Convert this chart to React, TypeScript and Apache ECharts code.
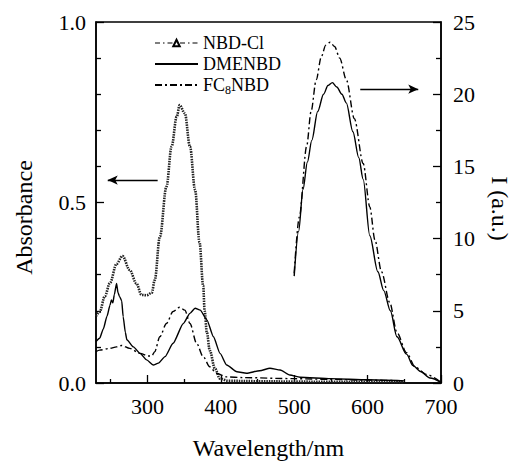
import React, { useEffect, useRef } from 'react';
import * as echarts from 'echarts';

// Absorption spectra (left axis, Absorbance)
const absWlNbdCl = [230, 235, 242, 249, 258, 266, 276, 285, 292, 299, 306, 310, 317, 326, 333, 340, 344, 351, 358, 365, 371, 376, 378, 381, 385, 392, 399, 410, 450, 500, 550, 600, 650];
const absNbdCl = [0.185, 0.197, 0.24, 0.277, 0.33, 0.352, 0.313, 0.276, 0.244, 0.243, 0.25, 0.285, 0.405, 0.544, 0.655, 0.738, 0.77, 0.747, 0.655, 0.535, 0.39, 0.27, 0.2, 0.14, 0.09, 0.04, 0.012, 0.006, 0.005, 0.004, 0.003, 0.003, 0.002];

const absWlDmenbd = [230, 235, 240, 245, 249, 251, 253, 255, 258, 260, 262, 265, 267, 270, 272, 281, 290, 299, 308, 315, 324, 335, 349, 358, 365, 372, 381, 390, 399, 408, 422, 435, 453, 467, 481, 494, 508, 550, 600, 650];
const absDmenbd = [0.115, 0.124, 0.15, 0.185, 0.215, 0.23, 0.222, 0.245, 0.276, 0.25, 0.24, 0.228, 0.184, 0.14, 0.12, 0.1, 0.082, 0.064, 0.05, 0.055, 0.073, 0.11, 0.165, 0.193, 0.207, 0.202, 0.175, 0.128, 0.082, 0.05, 0.031, 0.027, 0.034, 0.041, 0.036, 0.022, 0.016, 0.012, 0.009, 0.006];

const absWlFc8 = [230, 235, 249, 258, 265, 276, 290, 301, 306, 310, 317, 326, 335, 344, 351, 358, 367, 376, 385, 394, 408, 430, 500, 550, 600, 650];
const absFc8 = [0.087, 0.091, 0.096, 0.1, 0.104, 0.096, 0.082, 0.075, 0.075, 0.087, 0.128, 0.165, 0.198, 0.21, 0.202, 0.165, 0.11, 0.073, 0.045, 0.027, 0.017, 0.015, 0.012, 0.01, 0.008, 0.006];

// Emission spectra (right axis, I (a.u.))
const emWlDmenbd = [500, 506, 512, 518, 524, 532, 540, 546, 552, 558, 565, 571, 580, 588, 594, 603, 614, 622, 631, 640, 653, 662, 672, 685, 700];
const emDmenbd = [7.4, 10.5, 13.4, 15.3, 16.8, 18.8, 20.0, 20.6, 20.8, 20.5, 20.0, 19.4, 17.4, 15.6, 14.1, 10.2, 7.7, 6.4, 5.0, 3.2, 2.0, 1.2, 0.8, 0.35, 0.05];

const emWlFc8 = [500, 507, 517, 523, 530, 537, 543, 549, 555, 562, 571, 582, 594, 603, 610, 619, 630, 640, 653, 665, 680, 700];
const emFc8 = [7.6, 11.5, 16.4, 18.8, 21.0, 22.6, 23.4, 23.6, 23.3, 22.5, 21.0, 18.3, 15.2, 12.2, 9.9, 7.7, 5.6, 3.5, 2.1, 1.1, 0.6, 0.05];

const xMajorTicks = [300, 400, 500, 600, 700];
const xMinorTicks = [250, 350, 450, 550, 650];
const seriesNames = ['NBD-Cl', 'DMENBD', 'FC8NBD'];

// Arrow annotations [start, end] in data coordinates
const leftArrow = [[314, 0.562], [246, 0.562]];
const rightArrow = [[590, 20.35], [669, 20.35]];

const zip = (xs: number[], ys: number[]) => xs.map((x, i) => [x, ys[i]]);

const FONT = 'Liberation Serif';
const DASHDOT = [7, 3, 2, 3];

export default function App() {
  const ref = useRef<HTMLDivElement>(null);
  useEffect(() => {
    if (!ref.current) return;
    const chart = echarts.init(ref.current, undefined, { renderer: 'svg' });
    const black = '#000';
    const arrowLine = (pts: number[][]) => ({
      silent: true,
      symbol: ['none', 'arrow'],
      symbolSize: [7, 10],
      label: { show: false },
      lineStyle: { color: black, width: 1.3, type: 'solid' },
      itemStyle: { color: black, opacity: 1 },
      data: [[{ coord: pts[0] }, { coord: pts[1] }]],
    });
    chart.setOption({
      animation: false,
      backgroundColor: '#fff',
      grid: {
        left: 96, right: 74, top: 22, bottom: 79,
        outerBoundsMode: 'none',
        containLabel: false,
        show: true, borderColor: black, borderWidth: 1.5, backgroundColor: 'transparent',
      },
      legend: {
        orient: 'vertical',
        left: 149,
        top: 29,
        itemWidth: 43,
        itemHeight: 8,
        itemGap: 3,
        selectedMode: false,
        data: [
          { name: seriesNames[0], lineStyle: { type: [5, 3, 1.5, 3], width: 1.2, color: black }, itemStyle: { color: black, borderWidth: 1 } },
          { name: seriesNames[1], itemStyle: { opacity: 0 } },
          { name: seriesNames[2], itemStyle: { opacity: 0 } },
        ],
        textStyle: {
          fontFamily: FONT,
          fontSize: 18,
          color: black,
          rich: {
            t: { fontFamily: FONT, fontSize: 18, color: black },
            s: { fontFamily: FONT, fontSize: 12, color: black, padding: [9, 0, 0, 0] },
          },
        },
        formatter: (name: string) => (name === 'FC8NBD' ? '{t|FC}{s|8}{t|NBD}' : '{t|' + name + '}'),
      },
      xAxis: [
        {
          type: 'value',
          min: 230,
          max: 700,
          position: 'bottom',
          name: 'Wavelength/nm',
          nameLocation: 'middle',
          nameGap: 53,
          nameTextStyle: { fontFamily: FONT, fontSize: 24, color: black },
          axisLine: { show: true, lineStyle: { color: black, width: 1.5 } },
          axisTick: { show: true, inside: true, length: 8, customValues: xMajorTicks, lineStyle: { color: black, width: 1.3 } },
          axisLabel: { show: true, customValues: xMajorTicks, fontFamily: FONT, fontSize: 22, color: black, margin: 12 },
          splitLine: { show: false },
        },
        {
          type: 'value',
          min: 230,
          max: 700,
          position: 'bottom',
          axisLine: { show: false },
          axisTick: { show: true, inside: true, length: 4, customValues: xMinorTicks, lineStyle: { color: black, width: 1.3 } },
          axisLabel: { show: false },
          splitLine: { show: false },
        },
      ],
      yAxis: [
        {
          type: 'value',
          min: 0,
          max: 1,
          interval: 0.5,
          position: 'left',
          name: 'Absorbance',
          nameLocation: 'middle',
          nameGap: 60,
          nameTextStyle: { fontFamily: FONT, fontSize: 24, color: black, padding: [0, 30, 0, 0] },
          axisLine: { show: true, lineStyle: { color: black, width: 1.5 } },
          axisTick: { show: true, inside: true, length: 8, lineStyle: { color: black, width: 1.3 } },
          minorTick: { show: true, splitNumber: 5, length: 5, lineStyle: { color: black, width: 1.3 } },
          axisLabel: { fontFamily: FONT, fontSize: 22, color: black, margin: 10, formatter: (v: number) => v.toFixed(1) },
          splitLine: { show: false },
          minorSplitLine: { show: false },
        },
        {
          type: 'value',
          min: 0,
          max: 25,
          interval: 5,
          position: 'right',
          name: 'I (a.u.)',
          nameLocation: 'middle',
          nameGap: 47,
          nameRotate: -90,
          nameTextStyle: { fontFamily: FONT, fontSize: 24, color: black, padding: [0, 0, 0, 12] },
          axisLine: { show: true, lineStyle: { color: black, width: 1.5 } },
          axisTick: { show: true, inside: true, length: 8, lineStyle: { color: black, width: 1.3 } },
          minorTick: { show: true, splitNumber: 2, length: 5, lineStyle: { color: black, width: 1.3 } },
          axisLabel: { fontFamily: FONT, fontSize: 22, color: black, margin: 12 },
          splitLine: { show: false },
          minorSplitLine: { show: false },
        },
      ],
      series: [
        {
          name: 'NBD-Cl',
          type: 'line',
          xAxisIndex: 0,
          yAxisIndex: 0,
          data: zip(absWlNbdCl, absNbdCl),
          smooth: 0.35,
          smoothMonotone: 'x',
          symbol: 'emptyTriangle',
          symbolSize: 4,
          showSymbol: false,
          itemStyle: { color: black },
          lineStyle: { color: '#222', width: 2.6, type: [1.5, 1] },
          z: 3,
        },
        {
          name: 'DMENBD',
          type: 'line',
          xAxisIndex: 0,
          yAxisIndex: 0,
          data: zip(absWlDmenbd, absDmenbd),
          smooth: 0.2,
          smoothMonotone: 'x',
          symbol: 'none',
          lineStyle: { color: black, width: 1.4 },
          itemStyle: { color: black },
          markLine: arrowLine(leftArrow),
        },
        {
          name: 'FC8NBD',
          type: 'line',
          xAxisIndex: 0,
          yAxisIndex: 0,
          data: zip(absWlFc8, absFc8),
          smooth: 0.3,
          smoothMonotone: 'x',
          symbol: 'none',
          lineStyle: { color: black, width: 1.4, type: DASHDOT },
          itemStyle: { color: black },
        },
        {
          name: 'DMENBD',
          type: 'line',
          xAxisIndex: 0,
          yAxisIndex: 1,
          data: zip(emWlDmenbd, emDmenbd),
          smooth: 0.3,
          smoothMonotone: 'x',
          symbol: 'none',
          lineStyle: { color: black, width: 1.4 },
          itemStyle: { color: black },
          markLine: arrowLine(rightArrow),
        },
        {
          name: 'FC8NBD',
          type: 'line',
          xAxisIndex: 0,
          yAxisIndex: 1,
          data: zip(emWlFc8, emFc8),
          smooth: 0.3,
          smoothMonotone: 'x',
          symbol: 'none',
          lineStyle: { color: black, width: 1.4, type: DASHDOT },
          itemStyle: { color: black },
        },
      ],
    });
    return () => chart.dispose();
  }, []);
  return <div ref={ref} style={{ position: 'fixed', left: 0, top: 0, width: 515, height: 462, background: '#fff' }} />;
}
